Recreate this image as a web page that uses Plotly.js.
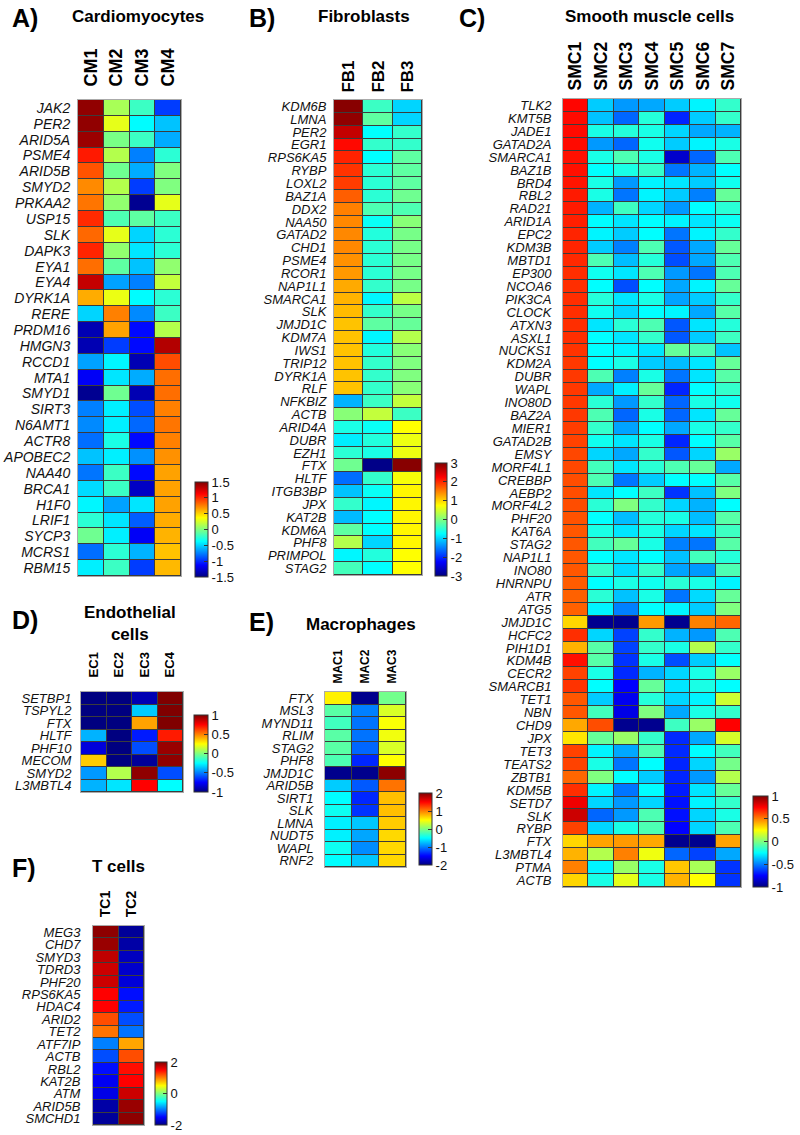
<!DOCTYPE html>
<html>
<head>
<meta charset="utf-8">
<script src="https://cdn.plot.ly/plotly-3.0.1.min.js"></script>
<style>html,body{margin:0;padding:0;background:#fff;}#chart{width:800px;height:1135px;}</style>
</head>
<body>
<div id="chart"></div>
<script>
// ---------- A) Cardiomyocytes ----------
const cmCols = ['CM1','CM2','CM3','CM4'];
const cmGenes = ['JAK2','PER2','ARID5A','PSME4','ARID5B','SMYD2','PRKAA2','USP15','SLK','DAPK3','EYA1','EYA4','DYRK1A','RERE','PRDM16','HMGN3','RCCD1','MTA1','SMYD1','SIRT3','N6AMT1','ACTR8','APOBEC2','NAA40','BRCA1','H1F0','LRIF1','SYCP3','MCRS1','RBM15'];
const cmValues = [
  [1.45,0.12,-0.2,-0.95],
  [1.45,0.3,-0.38,-0.55],
  [1.42,-0.02,-0.2,-0.62],
  [1.05,0.15,-0.75,-0.25],
  [0.88,-0.05,-0.62,0.0],
  [0.72,0.15,-0.95,0.0],
  [0.78,0.05,-1.45,0.3],
  [1.0,-0.15,-0.1,-0.2],
  [0.82,0.3,-0.5,-0.25],
  [1.02,0.05,-0.45,-0.25],
  [0.8,-0.1,-0.55,0.05],
  [1.3,-0.65,-0.75,0.2],
  [0.62,0.32,-0.38,-0.25],
  [-0.5,0.75,-0.72,-0.2],
  [-1.35,0.65,-1.1,0.15],
  [-1.35,-0.95,-1.1,1.35],
  [-0.65,-0.4,-1.35,0.9],
  [-1.15,-0.45,-0.62,0.8],
  [-1.45,-0.05,-1.35,0.8],
  [-0.75,-0.42,-0.9,0.75],
  [-0.72,-0.42,-0.82,0.78],
  [-0.8,-0.3,-1.1,0.75],
  [-0.55,-0.42,-0.7,0.7],
  [-0.78,-0.2,-1.1,0.65],
  [-0.48,-0.2,-1.3,0.65],
  [-0.4,-0.65,-0.45,0.65],
  [-0.25,-0.45,-0.85,0.62],
  [-0.05,-0.42,-1.15,0.6],
  [-0.8,-0.25,-0.6,0.55],
  [-0.42,-0.2,-0.95,0.58]
];
const cmTicks = [-1.5,-1,-0.5,0,0.5,1,1.5];
const cmTickText = ['-1.5','-1','-0.5','0','0.5','1','1.5'];

// ---------- B) Fibroblasts ----------
const fbCols = ['FB1','FB2','FB3'];
const fbGenes = ['KDM6B','LMNA','PER2','EGR1','RPS6KA5','RYBP','LOXL2','BAZ1A','DDX2','NAA50','GATAD2','CHD1','PSME4','RCOR1','NAP1L1','SMARCA1','SLK','JMJD1C','KDM7A','IWS1','TRIP12','DYRK1A','RLF','NFKBIZ','ACTB','ARID4A','DUBR','EZH1','FTX','HLTF','ITGB3BP','JPX','KAT2B','KDM6A','PHF8','PRIMPOL','STAG2'];
const fbValues = [
  [2.95,-0.4,-1.0],
  [2.9,-0.2,-1.0],
  [2.6,-0.75,-0.45],
  [2.2,-0.45,-0.45],
  [2.05,-0.75,-0.2],
  [1.95,-0.5,-0.2],
  [1.9,-0.5,-0.2],
  [1.7,-0.5,-0.1],
  [1.5,-0.3,-0.3],
  [1.45,-0.7,0.05],
  [1.45,-0.55,-0.05],
  [1.45,-0.5,-0.05],
  [1.4,-0.5,-0.05],
  [1.35,-0.5,-0.05],
  [1.25,-0.45,-0.05],
  [1.2,-0.8,0.35],
  [1.15,-0.45,-0.05],
  [1.1,-0.2,-0.15],
  [1.1,-0.8,0.3],
  [1.1,-0.55,0.05],
  [1.1,-0.45,0.0],
  [1.1,-0.45,0.0],
  [1.1,-0.45,0.05],
  [-1.2,-0.4,0.4],
  [0.05,0.4,-0.4],
  [-0.6,-0.7,0.75],
  [-0.85,-0.55,0.65],
  [-0.5,-0.6,0.65],
  [-0.1,-2.95,2.95],
  [-1.6,-0.45,0.7],
  [-1.1,-0.7,0.8],
  [-0.45,-0.8,0.8],
  [-1.15,-0.75,0.8],
  [-0.2,-0.75,0.8],
  [0.3,-1.0,0.8],
  [-0.8,-0.55,0.75],
  [-0.35,-0.75,0.75]
];
const fbTicks = [-3,-2,-1,0,1,2,3];
const fbTickText = ['-3','-2','-1','0','1','2','3'];

// ---------- C) Smooth muscle cells ----------
const smcCols = ['SMC1','SMC2','SMC3','SMC4','SMC5','SMC6','SMC7'];
const smcGenes = ['TLK2','KMT5B','JADE1','GATAD2A','SMARCA1','BAZ1B','BRD4','RBL2','RAD21','ARID1A','EPC2','KDM3B','MBTD1','EP300','NCOA6','PIK3CA','CLOCK','ATXN3','ASXL1','NUCKS1','KDM2A','DUBR','WAPL','INO80D','BAZ2A','MIER1','GATAD2B','EMSY','MORF4L1','CREBBP','AEBP2','MORF4L2','PHF20','KAT6A','STAG2','NAP1L1','INO80','HNRNPU','ATR','ATG5','JMJD1C','HCFC2','PIH1D1','KDM4B','CECR2','SMARCB1','TET1','NBN','CHD9','JPX','TET3','TEATS2','ZBTB1','KDM5B','SETD7','SLK','RYBP','FTX','L3MBTL4','PTMA','ACTB'];
const smcValues = [
  [0.74,-0.35,-0.45,-0.42,-0.35,-0.27,-0.15],
  [0.73,-0.37,-0.55,-0.18,-0.68,-0.35,-0.15],
  [0.73,-0.2,-0.18,-0.2,-0.33,-0.42,-0.4],
  [0.73,-0.45,-0.55,-0.22,-0.35,-0.27,-0.2],
  [0.72,-0.2,-0.1,-0.2,-0.85,-0.55,-0.1],
  [0.72,-0.25,-0.2,-0.15,-0.52,-0.4,-0.25],
  [0.71,-0.2,-0.45,-0.27,-0.3,-0.35,-0.22],
  [0.7,-0.2,-0.52,-0.27,-0.35,-0.5,-0.05],
  [0.7,-0.4,-0.13,-0.33,-0.45,-0.25,-0.17],
  [0.69,-0.25,-0.3,-0.25,-0.27,-0.3,-0.23],
  [0.68,-0.27,-0.35,-0.25,-0.52,-0.27,-0.15],
  [0.68,-0.35,-0.5,-0.1,-0.58,-0.42,-0.05],
  [0.67,-0.1,-0.38,-0.18,-0.6,-0.42,-0.1],
  [0.66,-0.22,-0.3,-0.1,-0.45,-0.52,-0.1],
  [0.66,-0.25,-0.6,-0.25,-0.42,-0.27,-0.05],
  [0.66,-0.18,-0.3,-0.2,-0.43,-0.35,-0.15],
  [0.66,-0.22,-0.33,-0.25,-0.27,-0.42,-0.08],
  [0.66,-0.3,-0.17,-0.1,-0.58,-0.3,-0.18],
  [0.66,-0.25,-0.3,-0.15,-0.58,-0.35,-0.13],
  [0.65,-0.25,-0.27,-0.3,-0.05,-0.1,-0.37],
  [0.64,-0.25,-0.2,-0.35,-0.38,-0.3,-0.05],
  [0.64,-0.1,-0.5,-0.2,-0.52,-0.3,-0.08],
  [0.64,-0.42,-0.28,-0.05,-0.68,-0.25,-0.15],
  [0.64,-0.17,-0.45,-0.15,-0.55,-0.2,-0.22],
  [0.64,-0.1,-0.55,-0.2,-0.55,-0.3,-0.05],
  [0.63,-0.15,-0.43,-0.25,-0.42,-0.2,-0.15],
  [0.62,-0.22,-0.3,-0.2,-0.68,-0.25,-0.08],
  [0.61,-0.33,-0.42,-0.15,-0.58,-0.33,0.05],
  [0.61,-0.12,-0.3,-0.17,-0.1,-0.05,-0.42],
  [0.6,-0.1,-0.52,-0.35,-0.25,-0.25,-0.08],
  [0.6,-0.3,-0.25,-0.13,-0.65,-0.37,0.0],
  [0.6,-0.17,0.0,-0.15,-0.33,-0.4,-0.25],
  [0.59,-0.25,-0.38,-0.18,-0.2,-0.38,-0.08],
  [0.58,-0.2,-0.3,-0.2,-0.33,-0.3,-0.13],
  [0.58,-0.12,-0.05,-0.2,-0.5,-0.52,-0.08],
  [0.58,-0.25,-0.3,-0.25,-0.37,-0.12,-0.18],
  [0.58,-0.15,-0.32,-0.15,-0.43,-0.45,-0.1],
  [0.57,-0.25,-0.2,-0.22,-0.17,-0.2,-0.27],
  [0.56,-0.17,-0.37,-0.2,-0.52,-0.32,-0.05],
  [0.56,-0.27,-0.5,-0.25,-0.27,-0.35,0.0],
  [0.33,-0.97,-0.97,0.45,-0.97,0.5,0.55],
  [0.66,-0.33,-0.62,-0.15,-0.4,-0.45,-0.1],
  [0.4,-0.08,-0.62,-0.15,-0.2,0.1,-0.15],
  [0.72,-0.08,-0.65,-0.2,-0.6,-0.35,-0.25],
  [0.62,-0.2,-0.67,-0.4,-0.33,-0.2,0.05],
  [0.65,-0.25,-0.75,-0.05,-0.3,-0.2,-0.25],
  [0.58,-0.35,-0.78,-0.18,-0.33,-0.27,0.15],
  [0.58,-0.12,-0.8,0.0,-0.42,-0.2,-0.15],
  [0.42,0.6,-0.97,-0.97,-0.13,0.05,0.75],
  [0.3,-0.05,0.05,-0.15,-0.67,-0.42,0.17],
  [0.62,-0.27,-0.42,-0.1,-0.67,-0.25,-0.12],
  [0.62,-0.2,-0.52,-0.25,-0.68,-0.33,-0.02],
  [0.55,0.0,-0.25,-0.35,-0.68,-0.45,0.1],
  [0.66,-0.27,-0.52,-0.25,-0.7,-0.3,-0.05],
  [0.78,-0.33,-0.45,-0.33,-0.72,-0.27,-0.15],
  [0.85,-0.55,-0.45,-0.1,-0.72,-0.33,-0.2],
  [0.62,-0.33,-0.2,-0.1,-0.75,-0.33,-0.1],
  [0.33,0.43,0.45,0.42,-0.97,-0.97,0.43],
  [0.4,0.1,0.5,0.22,-0.55,-0.62,-0.42],
  [0.5,-0.27,0.05,-0.2,0.36,0.08,-0.65],
  [0.33,-0.2,0.2,-0.2,0.4,0.25,-0.65]
];
const smcTicks = [-1,-0.5,0,0.5,1];
const smcTickText = ['-1','-0.5','0','0.5','1'];

// ---------- D) Endothelial cells ----------
const ecCols = ['EC1','EC2','EC3','EC4'];
const ecGenes = ['SETBP1','TSPYL2','FTX','HLTF','PHF10','MECOM','SMYD2','L3MBTL4'];
const ecValues = [
  [-1,-1,-0.9,1],
  [-1,-1,-0.35,1],
  [-1,-1,0.43,1],
  [-0.4,-1,-0.7,0.7],
  [-0.82,-1,-0.6,0.95],
  [0.35,-1,-0.95,0.97],
  [-0.45,0.1,0.97,-0.6],
  [-0.4,-0.3,0.75,-0.25]
];
const ecTicks = [-1,-0.5,0,0.5,1];
const ecTickText = ['-1','-0.5','0','0.5','1'];

// ---------- E) Macrophages ----------
const macCols = ['MAC1','MAC2','MAC3'];
const macGenes = ['FTX','MSL3','MYND11','RLIM','STAG2','PHF8','JMJD1C','ARID5B','SIRT1','SLK','LMNA','NUDT5','WAPL','RNF2'];
const macValues = [
  [0.55,-1.95,-0.05],
  [-0.15,-1.0,0.35],
  [-0.25,-1.05,0.48],
  [-0.15,-1.05,0.45],
  [-0.15,-1.1,0.35],
  [-0.2,-1.35,0.5],
  [-1.95,-1.95,1.95],
  [-0.7,-1.15,1.05],
  [-0.5,-1.35,0.75],
  [-0.45,-1.3,0.75],
  [-0.55,-0.72,0.7],
  [-0.55,-0.85,0.65],
  [-0.45,-0.95,0.65],
  [-0.5,-0.72,0.65]
];
const macTicks = [-2,-1,0,1,2];
const macTickText = ['-2','-1','0','1','2'];

// ---------- F) T cells ----------
const tcCols = ['TC1','TC2'];
const tcGenes = ['MEG3','CHD7','SMYD3','TDRD3','PHF20','RPS6KA5','HDAC4','ARID2','TET2','ATF7IP','ACTB','RBL2','KAT2B','ATM','ARID5B','SMCHD1'];
const tcValues = [
  [1.95,-1.9],
  [1.9,-1.85],
  [1.75,-1.75],
  [1.7,-1.7],
  [1.7,-1.65],
  [1.5,-1.45],
  [1.5,-1.4],
  [1.2,-1.2],
  [1.05,-1.05],
  [-1.0,0.85],
  [-1.2,1.2],
  [-1.45,1.45],
  [-1.55,1.5],
  [-1.6,1.7],
  [-1.85,1.9],
  [-1.9,1.95]
];
const tcTicks = [-2,0,2];
const tcTickText = ['-2','0','2'];

// ---------- layout helpers ----------
const W = 800, H = 1135;
const px = v => v / W;
const py = v => 1 - v / H;
const FONT = 'Liberation Sans, Arial, Helvetica, sans-serif';
const jet = [[0,'rgb(0,0,128)'],[0.125,'rgb(0,0,255)'],[0.375,'rgb(0,255,255)'],[0.625,'rgb(255,255,0)'],[0.875,'rgb(255,0,0)'],[1,'rgb(128,0,0)']];

const panels = [
  {cols:cmCols, genes:cmGenes, z:cmValues, zr:1.5, ticks:cmTicks, tt:cmTickText,
   box:[78,181,100,576], cb:[195,13,482,577], xf:18, yf:14, xs:9, ys:4},
  {cols:fbCols, genes:fbGenes, z:fbValues, zr:3, ticks:fbTicks, tt:fbTickText,
   box:[334,422,100,575], cb:[435,12,463,576], xf:17, yf:13, xs:3, ys:4},
  {cols:smcCols, genes:smcGenes, z:smcValues, zr:1, ticks:smcTicks, tt:smcTickText,
   box:[563,741,99,887], cb:[753,15,796,887], xf:17.5, yf:13, xs:4, ys:8},
  {cols:ecCols, genes:ecGenes, z:ecValues, zr:1, ticks:ecTicks, tt:ecTickText,
   box:[81,183,692,792], cb:[194,14,715,792], xf:13, yf:13, xs:11, ys:6},
  {cols:macCols, genes:macGenes, z:macValues, zr:2, ticks:macTicks, tt:macTickText,
   box:[325,406,692,867], cb:[419,13,793,865], xf:12, yf:13, xs:5, ys:8},
  {cols:tcCols, genes:tcGenes, z:tcValues, zr:2, ticks:tcTicks, tt:tcTickText,
   box:[93,144,926,1125], cb:[155,12,1062,1125], xf:14, yf:13, xs:5, ys:9}
];

const data = [];
const layout = {
  width: W, height: H,
  margin: {l:0, r:0, t:0, b:0, pad:0, autoexpand:false},
  paper_bgcolor: '#ffffff',
  plot_bgcolor: '#3c3c3c',
  font: {family: FONT, color: '#111'},
  showlegend: false,
  annotations: []
};

panels.forEach((p, i) => {
  const n = i === 0 ? '' : String(i + 1);
  const [x0, x1, y0, y1] = p.box;
  const [cbx, cbt, cby0, cby1] = p.cb;
  data.push({
    type: 'heatmap',
    x: p.cols, y: p.genes, z: p.z,
    xaxis: 'x' + n, yaxis: 'y' + n,
    zmin: -p.zr, zmax: p.zr,
    colorscale: jet,
    xgap: 1, ygap: 1,
    hoverinfo: 'skip',
    colorbar: {
      x: px(cbx), xanchor: 'left', xpad: 0,
      y: py(cby1), yanchor: 'bottom', ypad: 0,
      len: cby1 - cby0, lenmode: 'pixels',
      thickness: cbt, thicknessmode: 'pixels',
      outlinecolor: '#333', outlinewidth: 1,
      ticks: 'inside', ticklen: 4, tickcolor: '#333',
      tickvals: p.ticks, ticktext: p.tt,
      tickfont: {family: FONT, size: 13, color: '#111'}
    }
  });
  layout['xaxis' + n] = {
    domain: [px(x0), px(x1)], anchor: 'y' + n, type: 'category',
    tickmode: 'array', tickvals: p.cols, ticktext: p.cols,
    side: 'top', tickangle: -90, ticks: '', showgrid: false, zeroline: false,
    showline: true, mirror: true, linecolor: '#aaaaaa', linewidth: 1,
    ticklabelstandoff: p.xs,
    tickfont: {family: FONT, size: p.xf, color: '#000', weight: 'bold'},
    fixedrange: true
  };
  layout['yaxis' + n] = {
    domain: [py(y1), py(y0)], anchor: 'x' + n, type: 'category',
    tickmode: 'array', tickvals: p.genes, ticktext: p.genes,
    autorange: 'reversed', ticks: '', showgrid: false, zeroline: false,
    showline: true, mirror: true, linecolor: '#aaaaaa', linewidth: 1,
    ticklabelstandoff: p.ys,
    tickfont: {family: FONT, size: p.yf, color: '#111', style: 'italic'},
    fixedrange: true
  };
});

// panel letters and titles
const titles = [
  {t:'A)', x:10, y:18, s:25, a:'left'},
  {t:'Cardiomyocytes', x:138, y:17, s:17, a:'center'},
  {t:'B)', x:247, y:18, s:25, a:'left'},
  {t:'Fibroblasts', x:364, y:17, s:17, a:'center'},
  {t:'C)', x:457, y:18, s:25, a:'left'},
  {t:'Smooth muscle cells', x:649, y:17, s:17, a:'center'},
  {t:'D)', x:10, y:620, s:25, a:'left'},
  {t:'Endothelial<br>cells', x:130, y:623, s:17, a:'center'},
  {t:'E)', x:247, y:622, s:25, a:'left'},
  {t:'Macrophages', x:361, y:625, s:17, a:'center'},
  {t:'F)', x:10, y:868, s:25, a:'left'},
  {t:'T cells', x:118, y:866, s:17, a:'center'}
];
titles.forEach(o => {
  layout.annotations.push({
    xref: 'paper', yref: 'paper', x: px(o.x), y: py(o.y),
    xanchor: o.a, yanchor: 'middle', showarrow: false,
    text: '<b>' + o.t + '</b>',
    font: {family: FONT, size: o.s, color: '#000'}
  });
});

Plotly.newPlot('chart', data, layout, {staticPlot: true, displayModeBar: false});
</script>
</body>
</html>
